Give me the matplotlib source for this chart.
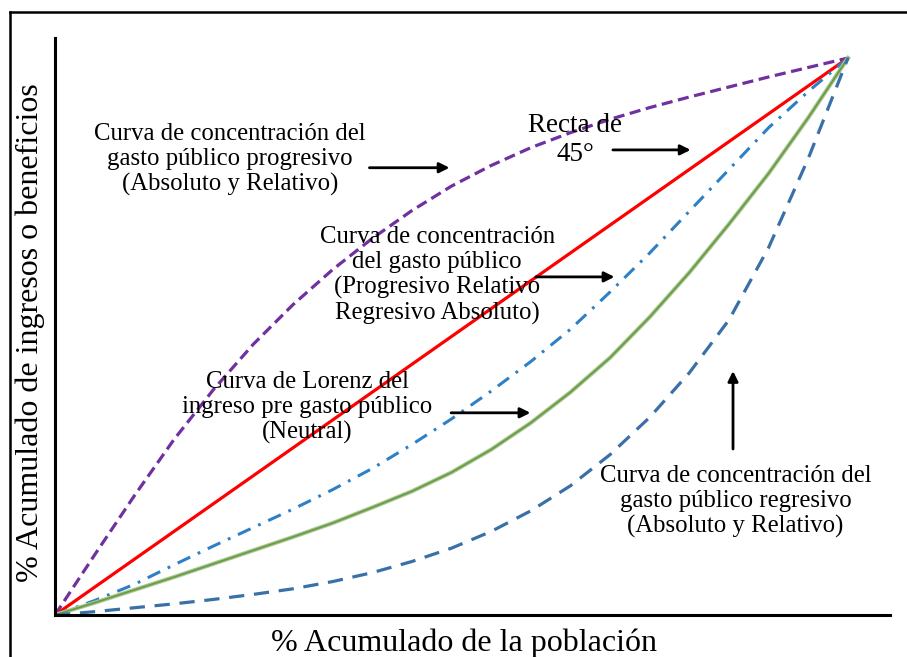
import matplotlib
matplotlib.use('Agg')
import matplotlib.pyplot as plt
from matplotlib.lines import Line2D

plt.rcParams['font.family'] = ['Liberation Serif', 'DejaVu Serif']
plt.rcParams['lines.scale_dashes'] = False

# share of population (common grid for the curves)
x_pop = [0, 0.05, 0.10, 0.15, 0.20, 0.25, 0.30, 0.35, 0.40, 0.45, 0.50,
         0.55, 0.60, 0.65, 0.70, 0.75, 0.80, 0.85, 0.90, 0.95, 1.0]

y_prog = [0, 0.108, 0.214, 0.315, 0.405, 0.486, 0.557, 0.62, 0.676, 0.726, 0.77,
          0.807, 0.839, 0.866, 0.89, 0.911, 0.93, 0.948, 0.966, 0.983, 1.0]

x_diag = [0, 1.0]
y_diag = [0, 1.0]

y_mixed = [0, 0.026, 0.055, 0.09, 0.124, 0.157, 0.19, 0.225, 0.263, 0.306, 0.352,
           0.402, 0.455, 0.513, 0.58, 0.65, 0.725, 0.80, 0.875, 0.94, 1.0]

y_lorenz = [0, 0.022, 0.045, 0.068, 0.092, 0.116, 0.14, 0.165, 0.193, 0.222, 0.256,
            0.297, 0.345, 0.4, 0.462, 0.535, 0.615, 0.702, 0.793, 0.893, 1.0]

y_regr = [0, 0.006, 0.013, 0.02, 0.028, 0.037, 0.047, 0.06, 0.076, 0.096, 0.12,
          0.15, 0.187, 0.232, 0.288, 0.355, 0.435, 0.53, 0.66, 0.82, 1.0]

labels = ['Curva de concentración del\ngasto público progresivo\n(Absoluto y Relativo)',
          'Recta de\n45°',
          'Curva de concentración\ndel gasto público\n(Progresivo Relativo\nRegresivo Absoluto)',
          'Curva de Lorenz del\ningreso pre gasto público\n(Neutral)',
          'Curva de concentración del\ngasto público regresivo\n(Absoluto y Relativo)']

fig = plt.figure(figsize=(9.07, 6.57), dpi=100)
ax = fig.add_axes([55/907, 42/657, 835/907, 577/657])

ax.plot(x_pop, y_prog, color='#7030a0', lw=2.3, dashes=(8, 4))
ax.plot(x_diag, y_diag, color='#ff0000', lw=2.3)
ax.plot(x_pop, y_mixed, color='#2e80c6', lw=2.2, dashes=(10, 6, 2, 6))
ax.plot(x_pop, y_lorenz, color='#a8c890', lw=3.0)
ax.plot(x_pop, y_lorenz, color='#6b9a48', lw=1.3)
ax.plot(x_pop, y_regr, color='#3a70a8', lw=2.3, dashes=(11, 7))

ax.set_xlim(0, 835/793)
ax.set_ylim(0, 577/557)
for s in ['top', 'right']:
    ax.spines[s].set_visible(False)
for s in ['left', 'bottom']:
    ax.spines[s].set_linewidth(2.2)
ax.set_xticks([])
ax.set_yticks([])

fs = 17.8
ax.text(0.221, 0.817, labels[0], ha='center', va='center', fontsize=fs, linespacing=1.17)
ax.text(0.656, 0.853, labels[1], ha='center', va='center', fontsize=19.5, linespacing=1.2)
ax.text(0.482, 0.609, labels[2], ha='center', va='center', fontsize=fs, linespacing=1.17)
ax.text(0.318, 0.372, labels[3], ha='center', va='center', fontsize=fs, linespacing=1.17)
ax.text(0.858, 0.203, labels[4], ha='center', va='center', fontsize=fs, linespacing=1.17)

arw = dict(arrowstyle='-|>', color='black', lw=2, mutation_scale=15)
ax.annotate('', xy=(0.501, 0.803), xytext=(0.393, 0.803), arrowprops=arw)
ax.annotate('', xy=(0.805, 0.835), xytext=(0.700, 0.835), arrowprops=arw)
ax.annotate('', xy=(0.709, 0.607), xytext=(0.603, 0.607), arrowprops=arw)
ax.annotate('', xy=(0.603, 0.363), xytext=(0.496, 0.363), arrowprops=arw)
ax.annotate('', xy=(0.855, 0.443), xytext=(0.855, 0.293), arrowprops=arw)

fig.text(30/907, (657-333)/657, '% Acumulado de ingresos o beneficios',
         rotation=90, ha='center', va='center', fontsize=23)
fig.text(464/907, (657-643)/657, '% Acumulado de la población',
         ha='center', va='center', fontsize=23)

# outer frame
fig.add_artist(Line2D([10/907, 1], [645/657, 645/657], color='black', lw=1.8))
fig.add_artist(Line2D([10/907, 10/907], [0, 645/657], color='black', lw=1.8))

fig.savefig('out.png', dpi=100)
